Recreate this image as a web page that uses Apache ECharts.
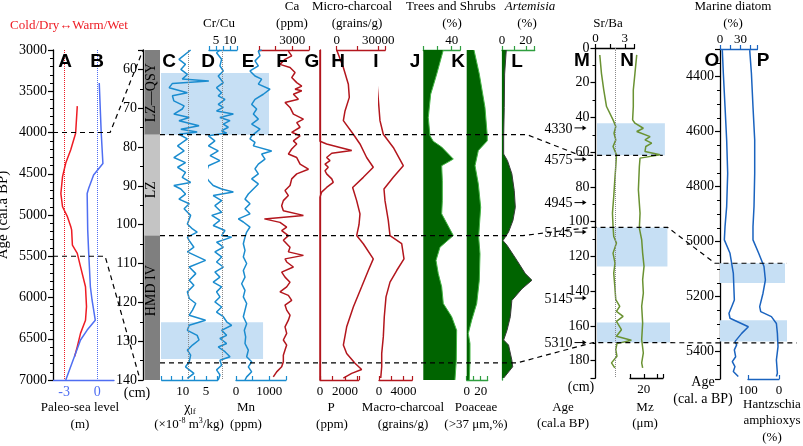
<!DOCTYPE html>
<html>
<head>
<meta charset="utf-8">
<script src="https://cdn.jsdelivr.net/npm/echarts/dist/echarts.min.js"></script>
<style>
  html, body { margin: 0; padding: 0; background: #fff; }
  #chart { width: 803px; height: 446px; }
</style>
</head>
<body>
<div id="chart"></div>
<script>
// ---- data: [age or depth, value] ----
const seaA = [[3680,-1.81],[4010,-1.96],[4210,-2.4],[4370,-2.85],[4535,-3.14],[4740,-3.29],[4900,-3.14],[5020,-2.7],[5140,-2.4],[5180,-2.32],[5365,-2.25],[5465,-1.81],[5625,-1.52],[5870,-1.07],[6110,-0.98],[6275,-1.07],[6435,-1.52],[6595,-1.81],[6715,-2.05]];
const seaB = [[3400,0.17],[4010,0.35],[4375,0.5],[4515,-0.34],[4675,-0.78],[4740,-0.92],[5180,-0.87],[5465,-0.78],[5870,-0.63],[6030,-0.48],[6275,-0.19],[6395,-0.92],[6515,-1.52],[7000,-2.85]];

const lithTop = [55, 76.8, 102.8];
const lithBottom = [76.8, 102.8, 140];
const lithName = ['LZ\u2014QSY', 'LZ', 'HMD IV'];
const lithLabelDepth = [66, 91, 117];

const chiLf = [[55,8.3],[57.4,10.8],[58.7,9.4],[60,10.4],[61.3,9.0],[62.5,10.1],[63,4.4],[63.6,12.2],[64.7,12.9],[66,9.0],[66.8,12.2],[68.1,11.9],[69.4,9.7],[70.2,10.1],[71.5,11.9],[72.4,8.6],[73.2,10.8],[74.5,6.5],[75.4,10.4],[76.1,6.9],[76.7,10.8],[77.9,9.0],[79.7,11.1],[81,9.7],[82.7,11.9],[84,9.4],[85.2,11.1],[86.5,9.4],[87.8,10.1],[89.1,8.3],[89.9,11.9],[90.8,10.4],[92.1,9.4],[93.4,10.8],[94.6,8.6],[95.9,9.7],[97.6,8.3],[99.8,9.0],[101.1,7.9],[101.9,6.9],[103.2,9.0],[104.1,8.6],[105.8,7.6],[107,9.0],[109.2,5.1],[110.9,8.6],[112.6,7.2],[114.3,8.6],[115.6,7.6],[117.3,9.0],[119,8.6],[120.3,7.2],[122,7.9],[123.3,8.6],[124.6,5.1],[125.9,8.6],[127.2,9.0],[128.5,6.9],[129.7,6.5],[131,7.9],[132.3,9.0],[133.6,8.3],[135.3,8.6],[136.6,9.4],[138.3,7.6],[139.6,9.0]];
const crCu = [[55,6.4],[55.7,5.2],[57.4,7.0],[59.1,6.4],[60.4,7.6],[61.7,5.8],[63.4,7.6],[64.7,5.2],[66,7.0],[66.8,5.8],[67.7,8.2],[69,5.8],[69.8,7.6],[70.7,5.2],[71.5,11.2],[72.4,6.4],[73.2,10],[74.1,7.6],[74.9,9.4],[75.8,7.0],[76.4,8.8],[77.1,2.3],[77.5,1.7],[78.4,4.6],[79.7,2.3],[81,5.8],[82.2,2.9],[83.5,6.4],[84.8,2.3],[86.1,1.7],[87.4,1.1],[88.6,2.3],[89.9,4.0],[90.8,7.0],[91.6,11.2],[92.5,4.0],[93.8,7.0],[95.1,4.6],[96.8,7.0],[97.6,3.5],[98.9,6.4],[100.2,4.0],[101.5,8.2],[102.8,7.0],[103.2,10.6],[104.5,5.2],[105.8,7.6],[107,4.6],[108.3,7.0],[109.6,5.2],[110.9,7.6],[112.2,4.6],[113.5,6.4],[114.8,4.0],[116,7.0],[117.3,5.2],[118.6,6.4],[119.9,4.6],[121.2,7.0],[122.5,5.2],[123.7,7.6],[125,8.8],[125.9,10.6],[127.2,7.0],[128.5,8.8],[129.3,6.4],[130.6,8.8],[131.5,5.8],[132.7,8.2],[134,10.0],[134.9,6.4],[136.2,7.0],[137.4,5.2],[138.7,6.4],[140,5.8]];
const mn = [[55,770],[55.3,670],[56.5,720],[57.8,570],[59.1,670],[60.4,420],[61.7,570],[62.5,770],[63.8,670],[65.1,1020],[66.4,820],[67.7,570],[69,470],[70.2,620],[71.5,520],[72.8,670],[74.1,470],[75.4,720],[76.4,570],[77.1,470],[77.9,420],[78.8,570],[79.7,520],[81,1070],[81.8,770],[83.1,870],[84.4,670],[85.6,570],[86.9,670],[88.2,470],[89.5,670],[90.8,520],[92.1,370],[93.4,270],[94.6,420],[95.9,270],[97.2,420],[98.5,70],[99.3,220],[100.6,420],[101.9,320],[103.2,270],[104.9,220],[106.6,270],[108.3,220],[110,320],[111.8,220],[113.5,270],[115.2,170],[116.9,270],[118.6,220],[120.3,320],[122,270],[123.7,220],[125.5,320],[127.2,250],[128.9,290],[130.6,270],[132.3,370],[134,320],[135.3,470],[136.6,370],[137.9,470],[139.2,320],[140,270]];
const ca = [[55.3,2650],[56.5,2950],[57.4,2350],[58.7,1900],[59.5,2800],[60.8,3250],[62.1,2950],[63.4,3400],[64.3,3850],[65.1,3250],[65.5,3850],[66.4,3100],[67.7,3550],[68.5,2350],[69.8,2800],[71.5,3100],[72.8,4000],[73.7,3400],[74.9,3700],[76.2,2950],[77.1,3700],[78.4,3100],[79.2,3400],[80.5,2950],[81.8,2650],[82.7,3400],[84.4,3700],[85.7,4450],[86.9,3400],[88.2,2950],[89.9,2800],[91.2,2350],[92.5,2650],[93.8,2200],[95.1,2050],[96.4,2200],[97.6,4000],[98.5,500],[99.4,1900],[100.6,2500],[101.5,2050],[102.8,2650],[104,2200],[105.8,2800],[107,2650],[107.9,4000],[108.8,2350],[109.6,2500],[110.9,3100],[112.2,2050],[113.5,2350],[114.8,2800],[116,2500],[117.3,1900],[118.2,2650],[119.5,2950],[120.7,2350],[122,2500],[123.3,2800],[124.6,2650],[126.3,2350],[128,2500],[129.7,2200],[131,2500],[132.3,2350],[133.6,2200],[135.3,2200],[136.6,2050],[137.9,1600],[139.2,1300]];
const phos = [[55,0],[78.5,0],[79.2,530],[80.1,1600],[80.9,2540],[81.6,940],[82.7,530],[83.5,800],[84.4,400],[85.2,660],[86.1,400],[86.9,530],[88.2,940],[89.1,1060],[90.4,530],[91.6,130],[92.9,0],[140,0]];
const microChar = [[55,0],[59.5,4800],[63.8,8400],[67.2,9100],[70.7,6000],[73.2,4800],[76.7,12000],[79.2,16800],[82.7,21600],[85.2,26400],[87.8,19200],[90.4,11500],[93.8,14400],[97.2,16800],[100,16100],[102.8,14400],[104.9,19200],[108.8,26400],[111.8,22800],[116,18000],[121.2,12000],[126.3,7200],[131,4800],[133.2,7200],[135.7,13200],[137.3,18000],[138.3,10800],[139.5,4800]];
const macroChar = [[55,-650],[65,-250],[73.2,160],[76.7,700],[80.1,2325],[84.8,3950],[87.8,2325],[90.8,810],[93.8,975],[98.9,1510],[102.8,1790],[104.9,3690],[108.8,4065],[111.8,2880],[114.8,1790],[118.6,1140],[123.7,860],[128.9,700],[133.2,440],[136.6,440],[139.5,280]];
const trees = [[55,28.2],[61.2,18.9],[66.4,10.4],[72.4,7],[77.1,9.4],[78.5,14],[80,25.9],[83.1,42.3],[84.8,25.9],[88.6,26.8],[93.8,26.8],[97.2,25.9],[102.8,42.3],[105.8,23.5],[109.2,17.9],[112.6,21.1],[116,25.9],[120.3,28.2],[123.7,40],[127.2,47],[134.9,46.5],[140,44.6]];
const poaceae = [[55,10.4],[61.2,18],[69.8,26.1],[77.1,29.4],[78.4,29.4],[80.9,16.6],[84.8,11.9],[89.5,16.6],[95.5,20],[100.6,18],[103.2,17.1],[107.5,19],[114.3,18],[120.3,14.3],[124.6,7.1],[128,2.3],[130.6,4.7],[134.9,4.7],[140,3.7]];
const artemisia = [[55,3.6],[61.2,2.2],[69.8,1.9],[77.1,1.4],[81.8,1.4],[83.5,4.6],[86.9,8.3],[91.2,10.3],[95.5,11.2],[98.9,9.2],[101.9,5.5],[104.1,0.8],[105.3,4.2],[109.2,12.6],[112.6,19.6],[114.3,25.2],[116.5,16.8],[119.5,8.3],[123.7,7],[127.2,4.2],[129.7,1.4],[131,5.5],[134.9,8.3],[136.6,9],[139.5,1.4]];

const srBa = [[4,0.44],[14.6,0.61],[24.2,0.85],[33.7,1.13],[41.4,1.8],[45.2,2.08],[49.1,1.9],[52.9,2.08],[56.7,1.8],[61.5,2.15],[68.2,2.08],[75.9,1.98],[85.5,1.87],[95.1,1.74],[102.7,1.8],[108.5,1.87],[112.3,2.15],[118.1,1.8],[123.8,2.0],[129.6,1.87],[137.2,1.98],[144.9,2.08],[148.7,2.49],[151.6,2.15],[154.5,2.83],[157.4,2.15],[162.2,2.66],[166,2.15],[168.3,3.68],[170.2,2.2],[173.7,2.08],[177.5,2.2],[181.3,1.64],[184.2,1.98]];
const mz = [[4,14.9],[14.6,13.6],[24.2,12.4],[33.7,12.4],[41.4,11.9],[43.3,13.6],[46.2,19.7],[48.1,14.9],[51,24.6],[52.9,20.9],[54.8,25.8],[56.7,21.5],[59.6,20.9],[61.5,31.9],[63.4,17.3],[68.2,16.8],[81.7,16.1],[95.1,17.3],[103.7,16.8],[110.4,18.5],[118.1,19.2],[125.7,20.2],[133.4,19.2],[141.1,19.7],[148.7,18.5],[158.3,19.2],[167.9,18.5],[175.6,19.7],[181.3,18.5],[184.2,19.2]];
const ageMarkDepth = [46, 64, 89, 106, 144, 169.6];
const ageMarkLabel = ['4330', '4575', '4945', '5145', '5145', '5310'];

const marine = [[4304,3.4],[4388,4.9],[4510,7.4],[4631,9.8],[4752,11.3],[4873,9.8],[4946,7.4],[4994,6.4],[5043,14.7],[5116,19.6],[5213,21.1],[5237,17.2],[5261,13.2],[5279,14.7],[5310,41.7],[5334,31.9],[5364,22],[5376,24.5],[5394,21.1],[5419,23],[5437,18.1],[5455,22],[5473,19.6],[5491,26.9]];
const hantz = [[4304,94.5],[4388,89],[4510,83.9],[4631,78.4],[4752,78.4],[4873,80.6],[4946,83.9],[4994,83.9],[5043,65.5],[5091,48.4],[5140,43.9],[5188,51.6],[5237,62.3],[5255,59],[5273,24.5],[5298,8.4],[5334,5.2],[5382,3.2],[5431,8.4],[5479,5.2],[5491,8.4]];

const bandCE = [[60.9, 76.8], [125.1, 134.6]];
const bandMN = [[43.3, 61.8], [103.3, 125.8], [158, 169.6]];
const bandOP = [[5079, 5151], [5286, 5364]];
const boundaryDepth = [76.8, 102.8, 135.6];

// ---- styling ----
const serif = '"Liberation Serif", "Times New Roman", serif';
const sans = '"Liberation Sans", Arial, sans-serif';
const RED = '#b3161d', CYAN = '#1a8ccf', GREEN = '#2f9e3f', DKGREEN = '#006400';
const OLIVE = '#6a9232', BLUE = '#1a63bf', SEA_RED = '#ee1c24', SEA_BLUE = '#4f6ef2';
const BAND = '#c6dff4';

const grids = [], xAxes = [], yAxes = [], series = [];

function only(list) {
  return function (v) { return list.some(t => Math.abs(t - v) < 1e-6) ? String(v) : ''; };
}

function addGrid(box, xa, ya) {
  const i = grids.length;
  grids.push({ left: box[0], top: box[1], width: box[2], height: box[3], containLabel: false, outerBoundsMode: 'none' });
  xAxes.push(Object.assign({ gridIndex: i, type: 'value', splitLine: { show: false } }, xa));
  yAxes.push(Object.assign({ gridIndex: i, type: 'value', splitLine: { show: false } }, ya));
  return i;
}

function valAxis(o) {
  const bottom = o.pos === 'bottom';
  return {
    position: o.pos, min: o.min, max: o.max, interval: o.interval, inverse: !!o.inverse,
    axisLine: { show: true, onZero: false, lineStyle: { color: o.color, width: 1.3 } },
    axisTick: { show: o.ticks !== false, inside: bottom, length: 4, lineStyle: { color: o.color, width: 1.2 } },
    axisLabel: { show: true, margin: bottom ? 5 : 3, color: o.labelColor || '#000', fontFamily: serif, fontSize: o.fontSize || 13, formatter: only(o.labels) }
  };
}

function leftAxis(o) {
  return Object.assign({
    position: 'left', inverse: true,
    axisLine: { show: true, onZero: false, lineStyle: { color: '#000', width: 1.3 } },
    axisTick: { show: true, length: 5, lineStyle: { color: '#000', width: 1.2 } },
    minorTick: { show: true, splitNumber: o.minor, length: 3, lineStyle: { color: '#000', width: 1 } },
    axisLabel: { show: true, margin: 6, color: '#000', fontFamily: serif, fontSize: 14, formatter: o.fmt, showMinLabel: true }
  }, o.extra);
}

const depthAxis = () => ({ show: false, min: 55, max: 140, inverse: true });
const mDepthAxis = () => ({ show: false, min: 0, max: 190, inverse: true });
const ageOAxis = () => ({ show: false, min: 4300, max: 5500, inverse: true });

// ---- panels ----
const gA = addGrid([53, 50, 61, 330],
  valAxis({ color: SEA_BLUE, labelColor: SEA_BLUE, pos: 'bottom', min: -4, max: 1.5, interval: 1, labels: [-3, 0], ticks: false, fontSize: 14 }),
  leftAxis({ minor: 5, fmt: v => String(v), extra: { min: 3000, max: 7000, interval: 500,
    name: 'Age (cal.a BP)', nameLocation: 'middle', nameGap: 42,
    nameTextStyle: { fontSize: 15, fontFamily: serif, color: '#000' } } }));
const gLith = addGrid([143, 50, 17, 330], { show: false, min: 0, max: 1 },
  leftAxis({ minor: 2, fmt: v => (v % 10 === 0 ? String(v) : ''), extra: { min: 55, max: 140, splitNumber: 8 } }));
const gC = addGrid([161.7, 50, 56, 330], valAxis({ color: CYAN, pos: 'bottom', min: 2.5, max: 14.5, interval: 2.5, labels: [10, 5], inverse: true }), depthAxis());
const gD = addGrid([209, 50, 28, 330], valAxis({ color: CYAN, pos: 'top', min: 2.5, max: 12.5, interval: 2.5, labels: [5, 10] }), depthAxis());
const gE = addGrid([236, 50, 50, 330], valAxis({ color: CYAN, pos: 'bottom', min: 0, max: 1500, interval: 500, labels: [0, 1000] }), depthAxis());
const gF = addGrid([258.8, 50, 50.2, 330], valAxis({ color: RED, pos: 'top', min: 0, max: 4500, interval: 1500, labels: [3000] }), depthAxis());
const gG = addGrid([320, 50, 38.75, 330], valAxis({ color: RED, pos: 'bottom', min: 0, max: 3100, interval: 1000, labels: [0, 2000] }),
  Object.assign(depthAxis(), { show: true, position: 'left', axisLine: { show: true, onZero: false, lineStyle: { color: RED, width: 1.3 } }, axisTick: { show: false }, axisLabel: { show: false } }));
const gH = addGrid([336.7, 50, 48.5, 330], valAxis({ color: RED, pos: 'top', min: 0, max: 35000, interval: 15000, labels: [0, 30000] }), depthAxis());
const gI = addGrid([379, 50, 33.2, 330], valAxis({ color: RED, pos: 'bottom', min: 0, max: 5400, interval: 2000, labels: [0, 4000] }), depthAxis());
const gJ = addGrid([423.3, 50, 36.9, 330], valAxis({ color: GREEN, pos: 'top', min: 0, max: 52, interval: 20, labels: [40] }), depthAxis());
const gK = addGrid([466.7, 50, 21, 330], valAxis({ color: GREEN, pos: 'bottom', min: 0, max: 30, interval: 10, labels: [0, 20] }), depthAxis());
const gL = addGrid([502, 50, 32.7, 330], valAxis({ color: GREEN, pos: 'top', min: 0, max: 27.5, interval: 10, labels: [0, 20] }),
  Object.assign(depthAxis(), { show: true, position: 'left', axisLine: { show: true, onZero: false, lineStyle: { color: GREEN, width: 1.3 } }, axisTick: { show: false }, axisLabel: { show: false } }));
const gM = addGrid([595.5, 48, 39, 330], valAxis({ color: '#000', pos: 'top', min: 0, max: 4, interval: 1.5, labels: [0, 3] }),
  leftAxis({ minor: 2, fmt: v => (v < 190 ? String(v) : ''), extra: { min: 0, max: 190, interval: 20 } }));
const gN = addGrid([630, 48, 33, 330], valAxis({ color: '#000', pos: 'bottom', min: 10, max: 34, interval: 10, labels: [20] }), mDepthAxis());
const gO = addGrid([720, 49, 37.4, 330], valAxis({ color: BLUE, pos: 'top', min: 0, max: 55, interval: 15, labels: [0, 30] }),
  leftAxis({ minor: 4, fmt: v => (v % 200 === 0 && v > 4300 && v < 5500 ? String(v) : ''), extra: { min: 4300, max: 5500, splitNumber: 6 } }));
const gP = addGrid([748, 49, 31, 330], valAxis({ color: BLUE, pos: 'bottom', min: 0, max: 100, interval: 100, labels: [0, 100], inverse: true }), ageOAxis());
const gBandCE = addGrid([161, 50, 108, 330], { show: false, min: 0, max: 1 }, depthAxis());
const gBandMN = addGrid([597, 48, 73, 330], { show: false, min: 0, max: 1 }, mDepthAxis());
const gBandOP = addGrid([720, 49, 67, 330], { show: false, min: 0, max: 1 }, ageOAxis());

// ---- series helpers ----
function curve(g, pts, color, mark) {
  const s = {
    type: 'line', xAxisIndex: g, yAxisIndex: g, data: pts.map(p => [p[1], p[0]]),
    symbol: 'none', showSymbol: false, clip: false, animation: false, z: 3,
    lineStyle: { color: color, width: 1.5 }, itemStyle: { color: color }
  };
  if (mark) {
    s.markLine = { silent: true, symbol: ['none', 'none'], animation: false, label: { show: false },
      lineStyle: { color: mark.color, type: 'dotted', width: 1 }, data: [{ xAxis: mark.x }] };
  }
  return s;
}

function fill(g, pts, fillColor, edgeColor) {
  return {
    type: 'custom', xAxisIndex: g, yAxisIndex: g, clip: false, animation: false, z: 2,
    data: [[0, pts[0][0]]],
    renderItem: function (params, api) {
      const edge = pts.map(p => api.coord([p[1], p[0]]));
      const ring = [api.coord([0, pts[0][0]])].concat(edge, [api.coord([0, pts[pts.length - 1][0]])]);
      return { type: 'group', children: [
        { type: 'polygon', shape: { points: ring }, style: { fill: fillColor } },
        { type: 'polyline', shape: { points: edge }, style: { fill: null, stroke: edgeColor, lineWidth: 1 } }
      ] };
    }
  };
}

function bands(g, ranges, ends) {
  return {
    type: 'custom', xAxisIndex: g, yAxisIndex: g, clip: false, animation: false, z: 1,
    data: ranges.map((r, i) => [r[0], r[1], ends[i]]),
    renderItem: function (params, api) {
      const a = api.coord([0, api.value(0)]);
      const b = api.coord([api.value(2), api.value(1)]);
      return { type: 'rect', shape: { x: a[0], y: a[1], width: b[0] - a[0], height: b[1] - a[1] }, style: { fill: BAND } };
    }
  };
}

// lithology column
series.push({
  type: 'custom', xAxisIndex: gLith, yAxisIndex: gLith, clip: false, animation: false, z: 1,
  data: lithTop.map((t, i) => [t, lithBottom[i], lithLabelDepth[i]]),
  renderItem: function (params, api) {
    const i = params.dataIndex;
    const a = api.coord([0, api.value(0)]);
    const b = api.coord([1, api.value(1)]);
    const c = api.coord([0.5, api.value(2)]);
    return { type: 'group', children: [
      { type: 'rect', shape: { x: a[0] + 1.5, y: a[1], width: b[0] - a[0] - 1.5, height: b[1] - a[1] },
        style: { fill: i === 1 ? '#c4c4c4' : '#7f7f7f' } },
      { type: 'text', x: c[0], y: c[1], rotation: Math.PI / 2,
        style: { text: lithName[i], font: '14px ' + serif, fill: '#000', align: 'center', verticalAlign: 'middle', textAlign: 'center', textVerticalAlign: 'middle' } }
    ] };
  }
});

series.push(bands(gBandCE, bandCE, [1, 0.945]));
series.push(bands(gBandMN, bandMN, [0.93, 0.965, 1]));
series.push(bands(gBandOP, bandOP, [0.97, 1]));

series.push(curve(gA, seaA, SEA_RED, { x: -3, color: SEA_RED }));
series.push(curve(gA, seaB, SEA_BLUE, { x: 0, color: SEA_BLUE }));
series.push(curve(gC, chiLf, CYAN, { x: 8.8, color: '#8a8a8a' }));
series.push(curve(gD, crCu, CYAN, { x: 7.4, color: '#8a8a8a' }));
series.push(curve(gE, mn, CYAN));
series.push(curve(gF, ca, RED));
series.push(curve(gG, phos, RED));
series.push(curve(gH, microChar, RED));
series.push(curve(gI, macroChar, RED));
series.push(fill(gJ, trees, DKGREEN, '#45b545'));
series.push(fill(gK, poaceae, DKGREEN, '#45b545'));
series.push(fill(gL, artemisia, DKGREEN, '#3a3a3a'));
series.push(curve(gM, srBa, OLIVE, { x: 2.0, color: '#8a8a8a' }));
series.push(curve(gN, mz, OLIVE));
series.push(curve(gO, marine, BLUE));
series.push(curve(gP, hantz, BLUE));

// dated levels with arrows on the Sr/Ba depth axis
series.push({
  type: 'custom', xAxisIndex: gM, yAxisIndex: gM, clip: false, animation: false, z: 5,
  data: ageMarkDepth.map(d => [0, d]),
  renderItem: function (params, api) {
    const p = api.coord([0, api.value(1)]);
    const ax = p[0], y = p[1];
    return { type: 'group', children: [
      { type: 'line', shape: { x1: ax - 21, y1: y, x2: ax - 12, y2: y }, style: { stroke: '#000', lineWidth: 1 } },
      { type: 'polygon', shape: { points: [[ax - 9, y], [ax - 13, y - 2.5], [ax - 13, y + 2.5]] }, style: { fill: '#000' } },
      { type: 'text', x: ax - 23, y: y + 1,
        style: { text: ageMarkLabel[params.dataIndex], font: '14px ' + serif, fill: '#000', align: 'right', verticalAlign: 'middle', textAlign: 'right', textVerticalAlign: 'middle' } }
    ] };
  }
});

const chart = echarts.init(document.getElementById('chart'), null, { renderer: 'canvas' });
chart.setOption({
  animation: false,
  backgroundColor: '#fff',
  grid: grids, xAxis: xAxes, yAxis: yAxes, series: series
});

// ---- texts and dashed correlation lines ----
function txt(s, x, y, extra) {
  return Object.assign({ type: 'text', x: x, y: y, z: 100, silent: true,
    style: Object.assign({ text: s, font: '13px ' + serif, fill: '#000', align: 'center', verticalAlign: 'middle',
      textAlign: 'center', textVerticalAlign: 'middle' }, extra || {}) });
}

const texts = [
  txt('Cold/Dry\u2194Warm/Wet', 69, 26, { fill: SEA_RED }),
  txt('Paleo-sea level', 80, 408), txt('(m)', 80, 425),
  txt('(cm)', 137, 393, { font: '14px ' + serif }),
  txt('{g|\u03c7}{s|lf}', 190, 408, { rich: { g: { fontSize: 14, fontFamily: serif, lineHeight: 16 }, s: { fontSize: 9, fontFamily: serif, verticalAlign: 'bottom', lineHeight: 16 } } }),
  txt('{n|(\u00d710}{u|-8}{n| m}{u|3}{n|/kg)}', 189, 425, { rich: { n: { fontSize: 13, fontFamily: serif, lineHeight: 16 }, u: { fontSize: 8, fontFamily: serif, verticalAlign: 'top', lineHeight: 16 } } }),
  txt('Mn', 246, 408), txt('(ppm)', 246, 425),
  txt('Cr/Cu', 219, 24),
  txt('Ca', 292, 7), txt('(ppm)', 292, 24),
  txt('Micro-charcoal', 352, 7), txt('(grains/g)', 357, 24),
  txt('Trees and Shrubs', 451, 7), txt('(%)', 452, 24),
  txt('Artemisia', 530, 7, { font: 'italic 13px ' + serif }), txt('(%)', 527, 24),
  txt('P', 331, 408), txt('(ppm)', 332, 425),
  txt('Macro-charcoal', 403, 408), txt('(grains/g)', 403, 425),
  txt('Poaceae', 476, 408), txt('(>37 \u03bcm,%)', 476, 425),
  txt('Age', 563, 408), txt('(cal.a BP)', 563, 424),
  txt('(cm)', 581, 387, { font: '14px ' + serif }),
  txt('Mz', 645, 408), txt('(\u03bcm)', 645, 424),
  txt('Sr/Ba', 608, 24),
  txt('Marine diatom', 733, 7), txt('(%)', 733, 24),
  txt('Age', 703, 382, { font: '14px ' + serif }), txt('(cal. a BP)', 703, 399, { font: '14px ' + serif }),
  txt('Hantzschia', 772, 405), txt('amphioxys', 772, 421), txt('(%)', 772, 438)
];

const letters = [['A', 65, 62], ['B', 97, 62], ['C', 169, 62], ['D', 208, 62], ['E', 248, 62], ['F', 282, 62],
  ['G', 312, 62], ['H', 338, 62], ['I', 376, 62], ['J', 415, 62], ['K', 458, 62], ['L', 517, 62],
  ['M', 582, 61], ['N', 627, 61], ['O', 712, 61], ['P', 763, 61]];
letters.forEach(l => texts.push(txt(l[0], l[1], l[2], { font: 'bold 19px ' + sans })));

// correlation lines: [gridIndex, x value, y value]
const links = [
  [[gA, -4, 4000], [gA, 1.15, 4000], [gLith, 0, 55]],
  [[gA, -4, 5500], [gA, 0.7, 5500], [gLith, -0.2, 139.5]],
  [[gLith, 1, boundaryDepth[0]], [gL, 21, boundaryDepth[0]], [gM, -1.6, 61.8], [gM, 6.9, 61.8]],
  [[gLith, 1, boundaryDepth[1]], [gL, 17.6, boundaryDepth[1]], [gM, -0.5, 103.3], [gM, 7.4, 103.3], [gO, -7.4, 5079], [gO, 98, 5079]],
  [[gLith, 1, boundaryDepth[2]], [gL, 12.6, boundaryDepth[2]], [gM, -0.25, 169.6], [gO, 113, 5369]]
];
const px = (g, x, y) => chart.convertToPixel({ xAxisIndex: g, yAxisIndex: g }, [x, y]);
links.forEach(line => {
  texts.push({ type: 'polyline', z: 90, silent: true,
    shape: { points: line.map(p => px(p[0], p[1], p[2])) },
    style: { stroke: '#000', lineWidth: 1.2, lineDash: [5, 4], fill: null } });
});

chart.setOption({ graphic: { elements: texts } });
</script>
</body>
</html>
